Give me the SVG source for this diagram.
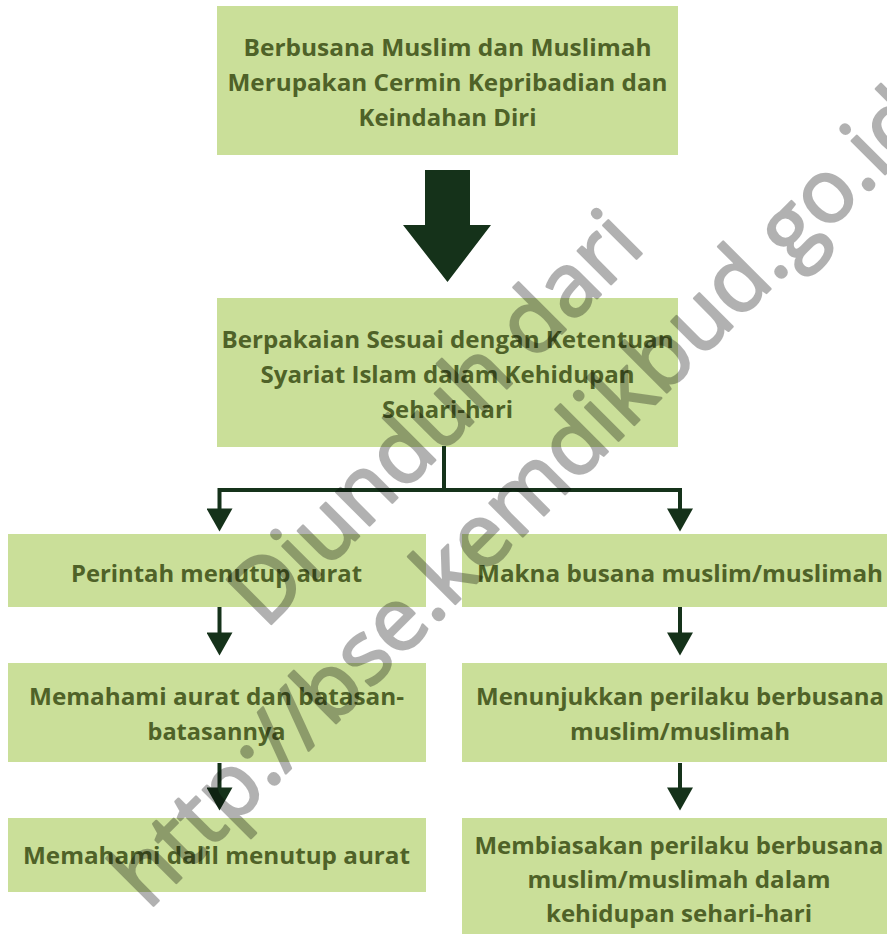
<svg xmlns="http://www.w3.org/2000/svg" width="887" height="934" viewBox="0 0 887 934">
<defs>
<style>
.box{fill:#CADF99;}
.t{font-family:"Open Sans","Noto Sans","Liberation Sans",sans-serif;font-weight:bold;font-size:24px;fill:#4F6228;text-anchor:middle;}
.c{fill:none;stroke:#15321A;stroke-width:4;stroke-linejoin:miter;}
.wm{font-family:"Open Sans","Noto Sans","Liberation Sans",sans-serif;font-size:88px;fill:#000;stroke:#000;stroke-width:2.5;stroke-linejoin:round;text-anchor:middle;}
</style>
<marker id="ah" markerUnits="userSpaceOnUse" markerWidth="24" markerHeight="26" refX="12" refY="12.5" orient="auto" viewBox="0 0 22 25">
<path d="M0,0 L22,12.5 L0,25 Z" fill="#15321A"/>
</marker>
</defs>
<rect width="887" height="934" fill="#fff"/>

<g id="node-top">
<rect class="box" x="217" y="6" width="461" height="149"/>
<text class="t" x="447.5" y="56" textLength="408" lengthAdjust="spacingAndGlyphs">Berbusana Muslim dan Muslimah</text>
<text class="t" x="447.5" y="91" textLength="440" lengthAdjust="spacingAndGlyphs">Merupakan Cermin Kepribadian dan</text>
<text class="t" x="447.5" y="126" textLength="178" lengthAdjust="spacingAndGlyphs">Keindahan Diri</text>
</g>

<g id="node-second">
<rect class="box" x="217" y="298" width="461" height="149"/>
<text class="t" x="447.5" y="348" textLength="452" lengthAdjust="spacingAndGlyphs">Berpakaian Sesuai dengan Ketentuan</text>
<text class="t" x="447.5" y="383" textLength="374" lengthAdjust="spacingAndGlyphs">Syariat Islam dalam Kehidupan</text>
<text class="t" x="447.5" y="418" textLength="131" lengthAdjust="spacingAndGlyphs">Sehari-hari</text>
</g>

<g id="node-perintah">
<rect class="box" x="8" y="534" width="418" height="73"/>
<text class="t" x="216.5" y="582" textLength="291" lengthAdjust="spacingAndGlyphs">Perintah menutup aurat</text>
</g>

<g id="node-makna">
<rect class="box" x="462" y="534" width="436" height="73"/>
<text class="t" x="680" y="582" textLength="406" lengthAdjust="spacingAndGlyphs">Makna busana muslim/muslimah</text>
</g>

<g id="node-memahami-aurat">
<rect class="box" x="8" y="663" width="418" height="99"/>
<text class="t" x="216.5" y="705" textLength="375" lengthAdjust="spacingAndGlyphs">Memahami aurat dan batasan-</text>
<text class="t" x="216.5" y="740" textLength="138" lengthAdjust="spacingAndGlyphs">batasannya</text>
</g>

<g id="node-menunjukkan">
<rect class="box" x="462" y="663" width="436" height="99"/>
<text class="t" x="680" y="705" textLength="408" lengthAdjust="spacingAndGlyphs">Menunjukkan perilaku berbusana</text>
<text class="t" x="680" y="740" textLength="220" lengthAdjust="spacingAndGlyphs">muslim/muslimah</text>
</g>

<g id="node-dalil">
<rect class="box" x="8" y="818" width="418" height="74"/>
<text class="t" x="216.5" y="864" textLength="387" lengthAdjust="spacingAndGlyphs">Memahami dalil menutup aurat</text>
</g>

<g id="node-membiasakan">
<rect class="box" x="462" y="818" width="436" height="116"/>
<text class="t" x="679" y="854" textLength="409" lengthAdjust="spacingAndGlyphs">Membiasakan perilaku berbusana</text>
<text class="t" x="679" y="888" textLength="303" lengthAdjust="spacingAndGlyphs">muslim/muslimah dalam</text>
<text class="t" x="679" y="922" textLength="266" lengthAdjust="spacingAndGlyphs">kehidupan sehari-hari</text>
</g>

<g id="connectors">
<polygon points="425,170 470,170 470,225 491,225 447.5,282 403,225 425,225" fill="#15321A"/>
<path class="c" d="M444,446 V490"/>
<path class="c" d="M444,490 H219.5 V521" marker-end="url(#ah)"/>
<path class="c" d="M444,490 H680 V521" marker-end="url(#ah)"/>
<path class="c" d="M219.5,607 V645" marker-end="url(#ah)"/>
<path class="c" d="M219.5,763 V800" marker-end="url(#ah)"/>
<path class="c" d="M680,607 V645" marker-end="url(#ah)"/>
<path class="c" d="M680,763 V800" marker-end="url(#ah)"/>
</g>

<g id="watermark" transform="rotate(-45)" opacity="0.3">
<text class="wm" x="12" y="633">Diunduh dari</text>
<text class="wm" x="16" y="749">http://bse.kemdikbud.go.id</text>
</g>
</svg>
